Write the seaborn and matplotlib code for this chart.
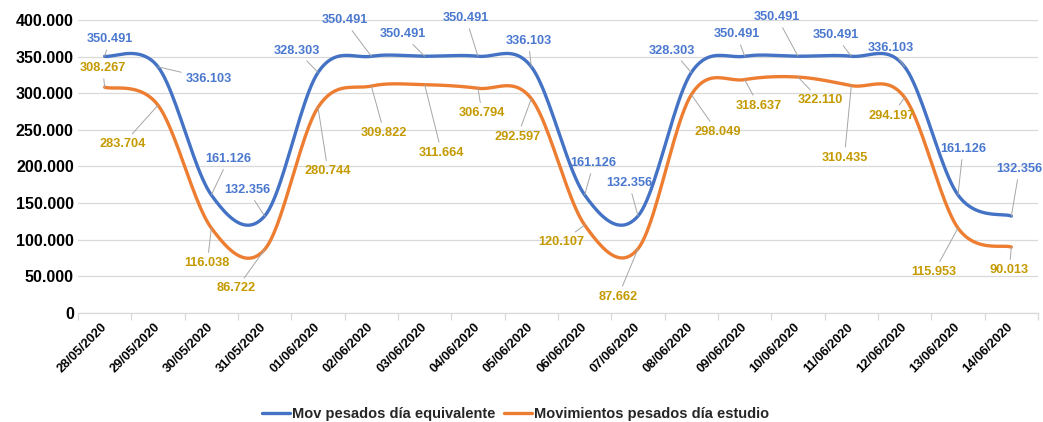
import numpy as np
import pandas as pd
import matplotlib
matplotlib.use("Agg")
import matplotlib.pyplot as plt
from matplotlib.ticker import FuncFormatter, FixedLocator
import seaborn as sns

# fechas del periodo
dates = ["28/05/2020", "29/05/2020", "30/05/2020", "31/05/2020", "01/06/2020",
         "02/06/2020", "03/06/2020", "04/06/2020", "05/06/2020", "06/06/2020",
         "07/06/2020", "08/06/2020", "09/06/2020", "10/06/2020", "11/06/2020",
         "12/06/2020", "13/06/2020", "14/06/2020"]

# movimientos pesados dia equivalente
equivalente = [350491, 336103, 161126, 132356, 328303, 350491, 350491, 350491, 336103,
               161126, 132356, 328303, 350491, 350491, 350491, 336103, 161126, 132356]

# movimientos pesados dia estudio
estudio = [308267, 283704, 116038, 86722, 280744, 309822, 311664, 306794, 292597,
           120107, 87662, 298049, 318637, 322110, 310435, 294197, 115953, 90013]

series_names = ["Mov pesados día equivalente", "Movimientos pesados día estudio"]

# offsets (pixels) of the data labels, as placed in the original chart
blue_offsets = [(5, 17), (51, -12), (17, 36), (-17, 26), (-21, 22), (-27, 36),
                (-22, 22), (-12, 38), (-3, 26), (9, 32), (-9, 33), (-19, 22),
                (-8, 22), (-21, 39), (-16, 21), (-14, 19), (5, 46), (8, 47)]
orange_offsets = [(-2, 19), (-35, -39), (-4, -35), (-28, -39), (10, -64), (13, -47),
                  (17, -68), (4, -25), (-14, -38), (-23, -17), (-20, -48), (26, -37),
                  (14, -26), (22, -23), (-7, -72), (-13, -18), (-24, -44), (-2, -23)]

BLUE = "#4472C4"
ORANGE = "#ED7D31"
BLUE_TXT = "#4A78CF"
GOLD_TXT = "#C49A00"


# smooth line like excel (bezier through the points)
def smooth(xs, ys, n=24):
    pts = np.column_stack([xs, ys]).astype(float)
    m = len(pts)
    out = []
    for i in range(m - 1):
        p0 = pts[max(i - 1, 0)]
        p1 = pts[i]
        p2 = pts[i + 1]
        p3 = pts[min(i + 2, m - 1)]
        c1 = p1 + (p2 - p0) / 6
        c2 = p2 - (p3 - p1) / 6
        t = np.linspace(0, 1, n, endpoint=(i == m - 2))[:, None]
        seg = (1 - t) ** 3 * p1 + 3 * (1 - t) ** 2 * t * c1 + 3 * (1 - t) * t ** 2 * c2 + t ** 3 * p2
        out.append(seg)
    out = np.vstack(out)
    return out[:, 0], out[:, 1]


def fmt(v):
    return f"{v:,.0f}".replace(",", ".")


sns.set_theme(style="white")
plt.rcParams["font.family"] = ["Liberation Sans", "DejaVu Sans"]

fig = plt.figure(figsize=(10.43, 4.22), dpi=100)
ax = fig.add_axes([78 / 1043, 1 - 313 / 422, 960 / 1043, 293 / 422])

x = np.arange(len(dates))
for vals, color, name in [(equivalente, BLUE, series_names[0]), (estudio, ORANGE, series_names[1])]:
    sx, sy = smooth(x, vals)
    df = pd.DataFrame({"x": sx, "y": sy})
    sns.lineplot(data=df, x="x", y="y", ax=ax, color=color, lw=2.4, sort=False,
                 estimator=None, label=name)

# data labels with leader lines
for vals, offs, tc in [(equivalente, blue_offsets, BLUE_TXT), (estudio, orange_offsets, GOLD_TXT)]:
    for i, v in enumerate(vals):
        ax.annotate(fmt(v), (i, v), xytext=offs[i], textcoords="offset pixels",
                    ha="center", va="center", fontsize=9.2, fontweight="bold", color=tc,
                    arrowprops=dict(arrowstyle="-", color="#A6A6A6", lw=0.7,
                                    shrinkA=1, shrinkB=0))

ax.set_xlim(-0.5, len(dates) - 0.5)
ax.set_ylim(0, 400000)
ax.yaxis.set_major_locator(FixedLocator(np.arange(0, 400001, 50000)))
ax.yaxis.set_major_formatter(FuncFormatter(lambda v, p: fmt(v)))
ax.grid(axis="y", color="#D9D9D9", lw=0.9)
ax.set_axisbelow(True)

ax.set_xticks(x)
ax.set_xticklabels(dates, rotation=45, ha="right", va="center", rotation_mode="anchor",
                   fontsize=9.3, fontweight="bold", color="black")
ax.set_xticks(np.arange(-0.5, len(dates)), minor=True)
ax.tick_params(axis="x", which="major", length=0, pad=9)
ax.tick_params(axis="x", which="minor", length=5, color="#D9D9D9", width=0.9, bottom=True)
ax.tick_params(axis="y", length=0, pad=3, labelsize=11.5, labelcolor="black")
for lab in ax.get_yticklabels():
    lab.set_fontweight("bold")
ax.set_xlabel("")
ax.set_ylabel("")

for s in ["top", "right", "left"]:
    ax.spines[s].set_visible(False)
ax.spines["bottom"].set_color("#D9D9D9")
ax.spines["bottom"].set_linewidth(0.9)

ax.legend(loc="center", bbox_to_anchor=(516 / 1043, 1 - 414 / 422), bbox_transform=fig.transFigure,
          ncol=2, frameon=False, prop={"weight": "bold", "size": 10.5},
          handlelength=1.9, handletextpad=0.15, columnspacing=0.6)

fig.savefig("out.png", dpi=100)
